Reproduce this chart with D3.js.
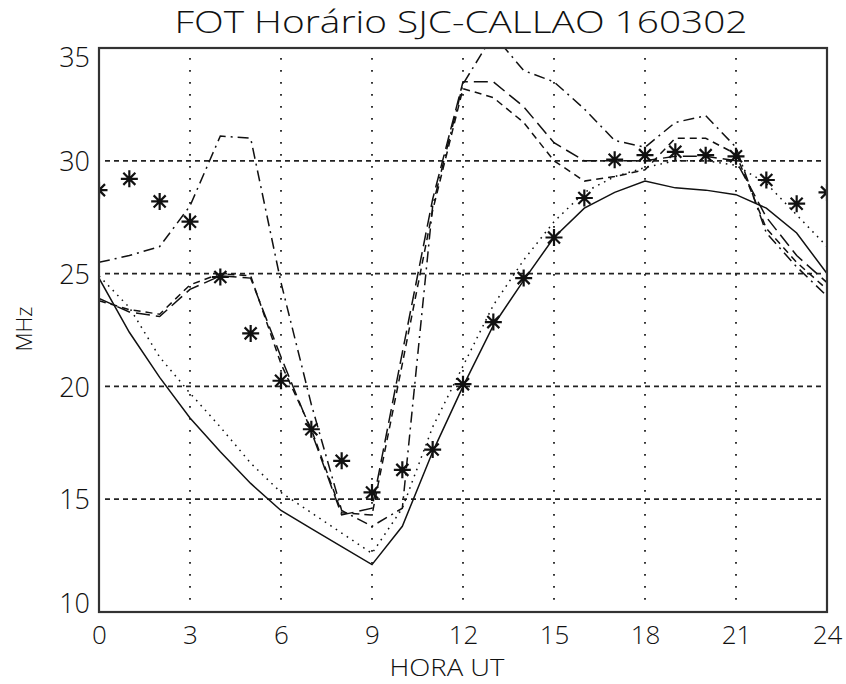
<!DOCTYPE html>
<html>
<head>
<meta charset="utf-8">
<script src="https://cdn.jsdelivr.net/npm/d3@7"></script>
<style>
  body { margin: 0; background: #fff; }
  text { font-family: "Open Sans", "DejaVu Sans", sans-serif; font-weight: 300; fill: #111; }
</style>
</head>
<body>
<div id="chart"></div>
<script>
// hours (UT)
var hours = [0, 1, 2, 3, 4, 5, 6, 7, 8, 9, 10, 11, 12, 13, 14, 15, 16, 17, 18, 19, 20, 21, 22, 23, 24];

// predicted FOT curves (MHz)
var fotSolid   = [24.8, 22.4, 20.4, 18.6, 17.1, 15.7, 14.5, 13.7, 12.9, 12.1, 13.8, 17.1, 20.0, 22.7, 24.7, 26.6, 27.9, 28.6, 29.1, 28.8, 28.7, 28.5, 27.9, 26.8, 25.0];
var fotDotted  = [24.9, 23.5, 21.3, 19.7, 18.2, 16.6, 15.3, 14.4, 13.5, 12.6, 14.6, 18.2, 20.9, 23.6, 25.6, 27.3, 28.6, 29.3, 29.7, 30.0, 30.0, 29.8, 29.0, 27.6, 26.2];
var fotDashDot = [25.5, 25.8, 26.2, 28.0, 31.1, 31.0, 24.6, 19.2, 14.5, 13.8, 14.6, 28.0, 33.4, 35.6, 34.0, 33.5, 32.3, 30.9, 30.6, 31.7, 32.0, 30.6, 26.8, 25.3, 24.0];
var fotDashed  = [23.8, 23.4, 23.2, 24.5, 25.0, 24.9, 21.0, 18.1, 14.4, 14.3, 21.0, 27.8, 33.2, 32.8, 31.7, 30.0, 29.1, 29.3, 29.6, 31.0, 31.0, 30.3, 27.0, 25.5, 24.3];
var fotLongDash = [23.9, 23.3, 23.1, 24.3, 24.9, 24.8, 21.3, 18.0, 14.3, 14.6, 21.5, 28.3, 33.5, 33.5, 32.4, 30.8, 30.0, 30.0, 30.0, 30.2, 30.2, 30.0, 27.5, 25.8, 24.6];

// observed values (asterisks)
var observed = [28.7, 29.2, 28.2, 27.3, 24.85, 22.35, 20.25, 18.1, 16.7, 15.3, 16.3, 17.2, 20.1, 22.85, 24.8, 26.6, 28.35, 30.05, 30.25, 30.4, 30.25, 30.2, 29.15, 28.1, 28.6];

var xTicks = [0, 3, 6, 9, 12, 15, 18, 21, 24];
var yTicks = [10, 15, 20, 25, 30, 35];
var xGrid = [3, 6, 9, 12, 15, 18, 21];
var yGrid = [15, 20, 25, 30];

var totalWidth = 846, totalHeight = 684;
var margin = { top: 48, left: 99, bottom: 72, right: 19 };
var width = totalWidth - margin.left - margin.right;
var height = totalHeight - margin.top - margin.bottom;

var svg = d3.select("#chart").append("svg")
	.attr("width", totalWidth)
	.attr("height", totalHeight);

var xScale = d3.scaleLinear().domain([0, 24]).range([0, width]);
var yScale = d3.scaleLinear().domain([10, 35]).range([height, 0]);

var main = svg.append("g")
	.attr("transform", "translate(" + margin.left + "," + margin.top + ")");

main.append("clipPath").attr("id", "plotClip")
	.append("rect")
	.attr("width", width)
	.attr("height", height);

// grid
main.append("g").selectAll("line")
	.data(yGrid).enter().append("line")
	.attr("x1", 6).attr("x2", width - 6)
	.attr("y1", function (d) { return yScale(d); })
	.attr("y2", function (d) { return yScale(d); })
	.attr("stroke", "#222")
	.attr("stroke-width", 1.8)
	.attr("stroke-dasharray", "5,4");

main.append("g").selectAll("line")
	.data(xGrid).enter().append("line")
	.attr("x1", function (d) { return xScale(d); })
	.attr("x2", function (d) { return xScale(d); })
	.attr("y1", 10).attr("y2", height - 6)
	.attr("stroke", "#222")
	.attr("stroke-width", 1.8)
	.attr("stroke-dasharray", "1.8,10.2");

// axes
var xAxis = d3.axisBottom(xScale).tickValues(xTicks).tickSize(0).tickPadding(14);
var yAxis = d3.axisLeft(yScale).tickValues(yTicks).tickSize(0).tickPadding(9);

main.append("g")
	.attr("transform", "translate(0," + height + ")")
	.call(xAxis)
	.call(function (g) {
		g.select(".domain").remove();
		g.selectAll("text").attr("font-size", 26).attr("font-family", null).attr("fill", "#111");
	});

main.append("g")
	.call(yAxis)
	.call(function (g) {
		g.select(".domain").remove();
		g.selectAll("text").attr("font-size", 27).attr("font-family", null).attr("fill", "#111")
			.attr("dy", function (d) { return d === 35 ? "0.68em" : (d === 10 ? "0em" : "0.36em"); });
	});

// curves
var series = [
	{ values: fotSolid, dash: null },
	{ values: fotDotted, dash: "1.6,5" },
	{ values: fotDashDot, dash: "11,5,2,5" },
	{ values: fotDashed, dash: "7,5" },
	{ values: fotLongDash, dash: "14,6" }
];

var line = d3.line()
	.x(function (d) { return xScale(d[0]); })
	.y(function (d) { return yScale(d[1]); });

var plot = main.append("g").attr("clip-path", "url(#plotClip)");

plot.selectAll("path.fot")
	.data(series).enter().append("path")
	.attr("class", "fot")
	.attr("d", function (s) { return line(d3.zip(hours, s.values)); })
	.attr("fill", "none")
	.attr("stroke", "#111")
	.attr("stroke-width", 1.5)
	.attr("stroke-dasharray", function (s) { return s.dash; });

// asterisks
var r = 8.5;
function asterisk() {
	var p = d3.path();
	for (var k = 0; k < 4; k++) {
		var a = k * Math.PI / 4;
		p.moveTo(-r * Math.cos(a), -r * Math.sin(a));
		p.lineTo(r * Math.cos(a), r * Math.sin(a));
	}
	return p.toString();
}

plot.selectAll("path.obs")
	.data(d3.zip(hours, observed)).enter().append("path")
	.attr("class", "obs")
	.attr("transform", function (d) { return "translate(" + xScale(d[0]) + "," + yScale(d[1]) + ")"; })
	.attr("d", asterisk())
	.attr("fill", "none")
	.attr("stroke", "#111")
	.attr("stroke-width", 2.2);

// frame
main.append("rect")
	.attr("width", width)
	.attr("height", height)
	.attr("fill", "none")
	.attr("stroke", "#333")
	.attr("stroke-width", 2.2);

// titles
svg.append("text")
	.attr("x", 461).attr("y", 33)
	.attr("text-anchor", "middle")
	.attr("font-size", 31)
	.attr("textLength", 573)
	.attr("lengthAdjust", "spacingAndGlyphs")
	.text("FOT Horário SJC-CALLAO 160302");

svg.append("text")
	.attr("x", 447).attr("y", 676)
	.attr("text-anchor", "middle")
	.attr("font-size", 23)
	.attr("textLength", 115)
	.attr("lengthAdjust", "spacingAndGlyphs")
	.text("HORA UT");

svg.append("text")
	.attr("transform", "translate(32,329) rotate(-90)")
	.attr("text-anchor", "middle")
	.attr("font-size", 22)
	.text("MHz");
</script>
</body>
</html>
